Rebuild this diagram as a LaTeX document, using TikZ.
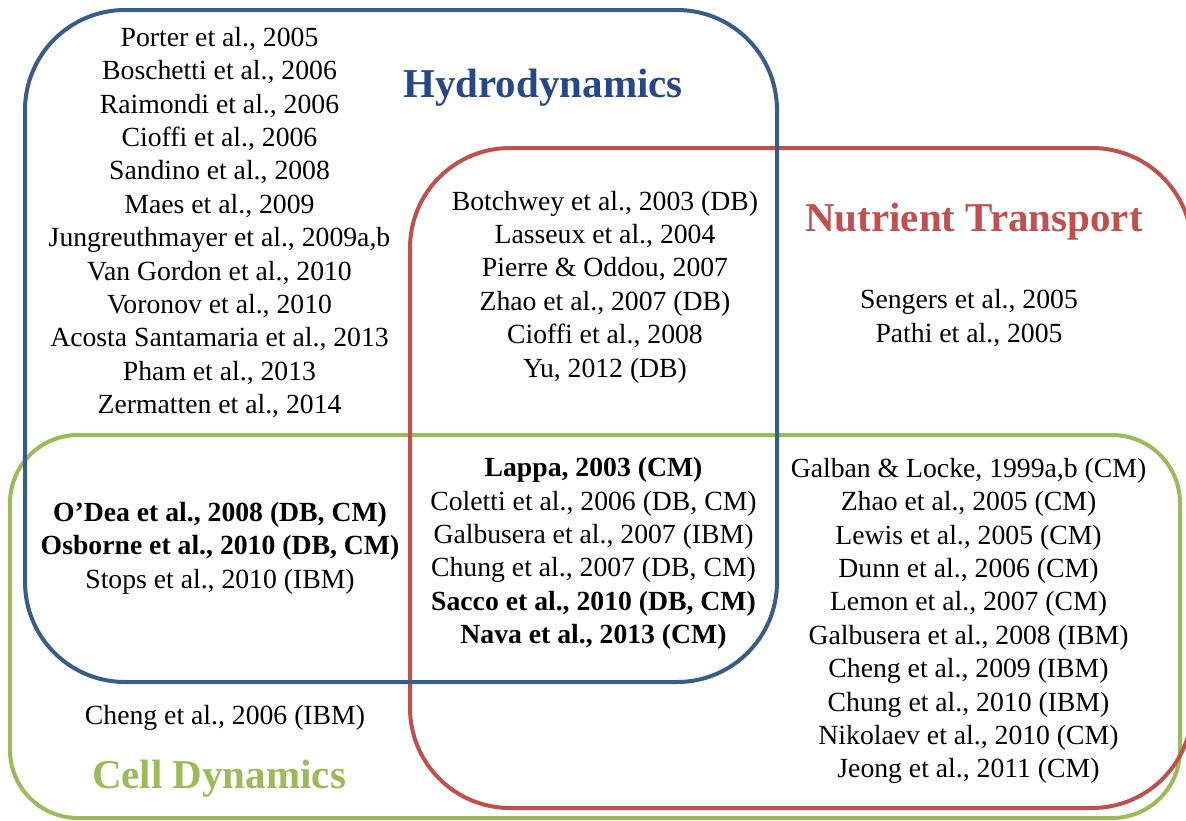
\documentclass[tikz,border=0pt]{standalone}
\usepackage{fontspec}
\setmainfont{Liberation Serif}
\usepackage{xcolor}
\usepackage{tikz}
\definecolor{hydroblue}{RGB}{56,93,138}
\definecolor{hydrotext}{RGB}{38,72,135}
\definecolor{nutred}{RGB}{192,80,77}
\definecolor{cellgreen}{RGB}{155,187,89}

\begin{document}
\begin{tikzpicture}[x=1pt,y=-1pt]
			\tikzstyle{every node} = [font = \fontsize{27.7}{33.4}\selectfont, align = center, inner sep = 0pt]
			\tikzstyle{venn} = [draw, line width = 4pt, rounded corners = 100pt]
			\tikzstyle{title} = [font = \fontsize{41}{48}\selectfont\bfseries, anchor = base]
				\useasboundingbox (0,0) rectangle (1186,820);
				\path[venn, cellgreen, rounded corners = 68pt] (10,435) rectangle (1180,818);
				\path[venn, nutred] (410,148) rectangle (1192,808);
				\path[venn, hydroblue] (25,10) rectangle (777,682);
				\node[title, text = hydrotext] (hydro) at (543,97) {Hydrodynamics};
				\node[title, text = nutred] (nutrient) at (974,231) {Nutrient Transport};
				\node[title, text = cellgreen] (cell) at (219,788) {Cell Dynamics};
				\node (hydroonly) at (219.5,222.5) {Porter et al., 2005\\ Boschetti et al., 2006\\
					Raimondi et al., 2006\\ Cioffi et al., 2006\\ Sandino et al., 2008\\
					Maes et al., 2009\\ Jungreuthmayer et al., 2009a,b\\ Van Gordon et al., 2010\\
					Voronov et al., 2010\\ Acosta Santamaria et al., 2013\\ Pham et al., 2013\\
					Zermatten et al., 2014};
				\node (hydronutrient) at (605,287) {Botchwey et al., 2003 (DB)\\ Lasseux et al., 2004\\
					Pierre \& Oddou, 2007\\ Zhao et al., 2007 (DB)\\ Cioffi et al., 2008\\ Yu, 2012 (DB)};
				\node (nutrientonly) at (969,318) {Sengers et al., 2005\\ Pathi et al., 2005};
				\node (hydrocell) at (220,548) {\textbf{O’Dea et al., 2008 (DB, CM)}\\
					\textbf{Osborne et al., 2010 (DB, CM)}\\ Stops et al., 2010 (IBM)};
				\node (allthree) at (593.5,553.5) {\textbf{Lappa, 2003 (CM)}\\ Coletti et al., 2006 (DB, CM)\\
					Galbusera et al., 2007 (IBM)\\ Chung et al., 2007 (DB, CM)\\
					\textbf{Sacco et al., 2010 (DB, CM)}\\ \textbf{Nava et al., 2013 (CM)}};
				\node (nutrientcell) at (968.5,621) {Galban \& Locke, 1999a,b (CM)\\ Zhao et al., 2005 (CM)\\
					Lewis et al., 2005 (CM)\\ Dunn et al., 2006 (CM)\\ Lemon et al., 2007 (CM)\\
					Galbusera et al., 2008 (IBM)\\ Cheng et al., 2009 (IBM)\\ Chung et al., 2010 (IBM)\\
					Nikolaev et al., 2010 (CM)\\ Jeong et al., 2011 (CM)};
				\node (cellonly) at (225,718) {Cheng et al., 2006 (IBM)};
\end{tikzpicture}
\end{document}
